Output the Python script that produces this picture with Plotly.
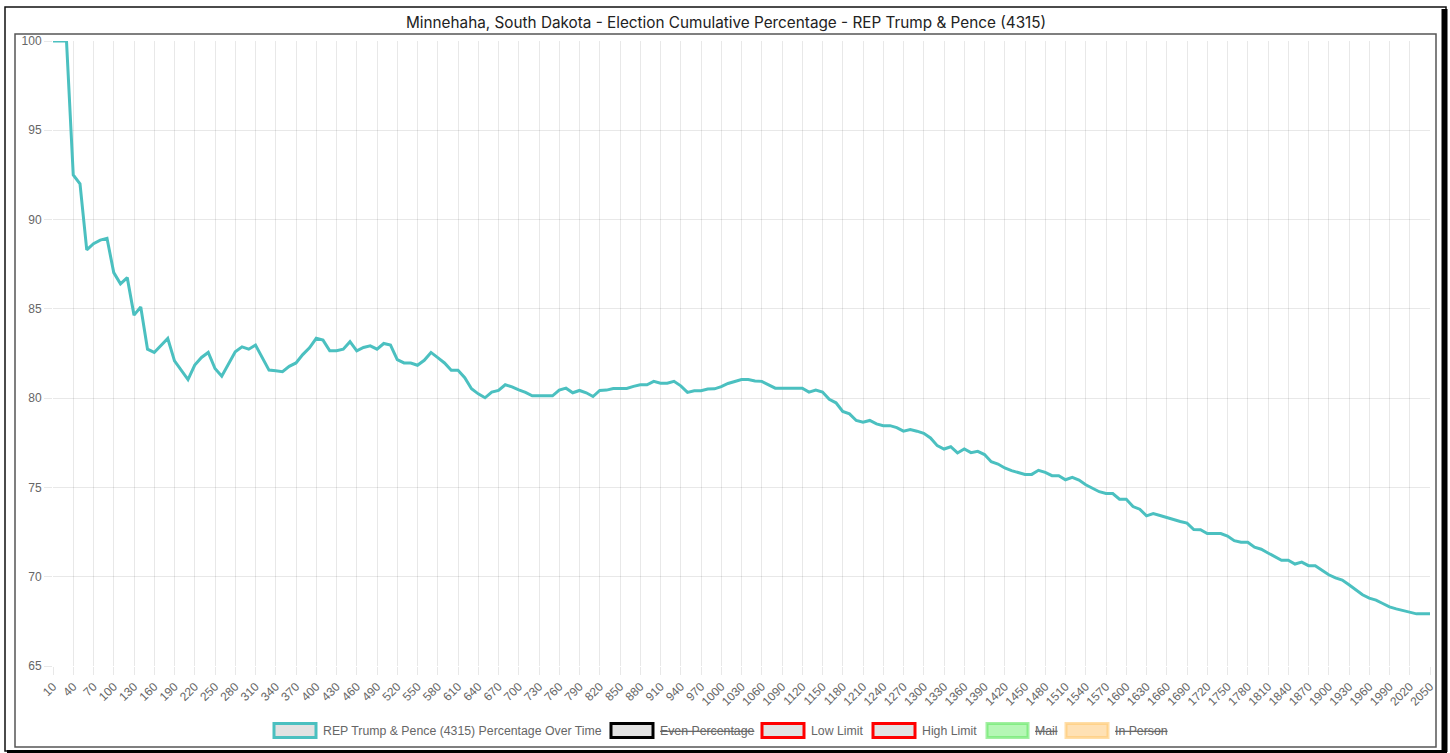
import plotly.graph_objects as go

# ---------------- data ----------------
categories = list(range(10, 2051, 10))
rep_pct = [
    100, 100, 100, 92.5, 92.0, 88.3, 88.65, 88.85, 88.95, 87.03,
    86.4, 86.75, 84.65, 85.1, 82.74, 82.56, 82.97, 83.34, 82.09, 81.57,
    81.04, 81.85, 82.28, 82.56, 81.66, 81.23, 81.9, 82.6, 82.87, 82.74,
    82.97, 82.28, 81.57, 81.53, 81.48, 81.78, 81.97, 82.44, 82.82, 83.35,
    83.25, 82.65, 82.65, 82.74, 83.16, 82.65, 82.84, 82.93, 82.74, 83.06,
    82.97, 82.16, 81.97, 81.97, 81.84, 82.12, 82.56, 82.27, 81.97, 81.56,
    81.56, 81.15, 80.53, 80.24, 80.02, 80.34, 80.43, 80.75, 80.63, 80.46,
    80.32, 80.13, 80.13, 80.13, 80.13, 80.45, 80.56, 80.3, 80.43, 80.3,
    80.09, 80.43, 80.45, 80.54, 80.54, 80.54, 80.66, 80.75, 80.75, 80.94,
    80.84, 80.84, 80.94, 80.69, 80.32, 80.41, 80.41, 80.51, 80.52, 80.64,
    80.82, 80.94, 81.04, 81.04, 80.96, 80.94, 80.75, 80.56, 80.56, 80.56,
    80.56, 80.56, 80.34, 80.45, 80.34, 79.93, 79.74, 79.25, 79.12, 78.75,
    78.65, 78.75, 78.56, 78.46, 78.46, 78.35, 78.15, 78.24, 78.15, 78.03,
    77.77, 77.34, 77.15, 77.28, 76.93, 77.15, 76.95, 77.02, 76.84, 76.44,
    76.31, 76.09, 75.94, 75.84, 75.73, 75.73, 75.96, 75.84, 75.66, 75.66,
    75.43, 75.56, 75.41, 75.15, 74.94, 74.76, 74.66, 74.66, 74.34, 74.34,
    73.93, 73.78, 73.41, 73.54, 73.43, 73.31, 73.2, 73.09, 73.0, 72.64,
    72.63, 72.42, 72.42, 72.42, 72.28, 72.02, 71.93, 71.93, 71.65, 71.54,
    71.33, 71.12, 70.92, 70.92, 70.71, 70.82, 70.62, 70.62, 70.34, 70.11,
    69.93, 69.81, 69.55, 69.27, 68.99, 68.8, 68.69, 68.5, 68.31, 68.2,
    68.11, 68.0, 67.92, 67.92, 67.92,
]
x_tick_labels = categories[::3]
y_tick_values = [65, 70, 75, 80, 85, 90, 95, 100]

title_text = "Minnehaha, South Dakota - Election Cumulative Percentage - REP Trump &amp; Pence (4315)"
legend_names = [
    "REP Trump &amp; Pence (4315) Percentage Over Time",
    "Even Percentage", "Low Limit", "High Limit", "Mail", "In Person",
]
legend_hidden = [False, True, False, False, True, True]

# ---------------- layout geometry ----------------
W, H = 1450, 753
L, R, T, B = 53, 20, 41, 87
PW, PH = W - L - R, H - T - B


def px(x):
    return (x - L) / PW


def py(y):
    return (H - B - y) / PH


fig = go.Figure()
fig.add_trace(go.Scatter(
    x=categories, y=rep_pct, mode="lines",
    line=dict(color="rgb(75,192,192)", width=3),
    showlegend=False, hoverinfo="x+y",
))

grid = "rgba(0,0,0,0.09)"
tickfont = dict(family="Liberation Sans, Arial, sans-serif", size=12, color="#666666")

fig.update_xaxes(
    range=[10, 2050], tickmode="array", tickvals=x_tick_labels,
    ticktext=[str(v) for v in x_tick_labels], tickangle=-45,
    showgrid=True, gridcolor=grid, gridwidth=1, zeroline=False, showline=False,
    ticks="outside", ticklen=8, tickcolor=grid, tickfont=tickfont,
)
fig.update_yaxes(
    range=[65, 100], tickmode="array", tickvals=y_tick_values,
    showgrid=True, gridcolor=grid, gridwidth=1, zeroline=False, showline=False,
    ticks="outside", ticklen=8, tickcolor=grid, tickfont=tickfont,
)

shapes = []
annotations = []

# frames
shapes.append(dict(type="rect", xref="paper", yref="paper",
                   x0=px(5), x1=px(1446), y0=py(7), y1=py(751),
                   line=dict(color="#111111", width=1.5), layer="below"))
shapes.append(dict(type="line", xref="paper", yref="paper",
                   x0=px(1444.5), x1=px(1444.5), y0=py(9), y1=py(752),
                   line=dict(color="#000000", width=6)))
shapes.append(dict(type="line", xref="paper", yref="paper",
                   x0=px(7), x1=px(1447), y0=py(751.5), y1=py(751.5),
                   line=dict(color="#000000", width=3)))
shapes.append(dict(type="rect", xref="paper", yref="paper",
                   x0=px(15), x1=px(1436), y0=py(34), y1=py(747),
                   line=dict(color="#555555", width=1.5), layer="below"))

# title
annotations.append(dict(xref="paper", yref="paper", x=px(725.5), y=py(22),
                        text=title_text, showarrow=False,
                        xanchor="center", yanchor="middle",
                        font=dict(family="Inter, Lato, sans-serif", size=15.3, color="#222222")))

# custom legend
legend_boxes = [(274, 316), (611, 653), (762, 804), (873, 915), (987, 1028), (1066, 1108)]
legend_border = ["rgb(75,192,192)", "#000000", "#ff0000", "#ff0000",
                 "rgba(100,230,100,0.6)", "rgba(255,200,110,0.6)"]
legend_fill = ["#e2e2e2", "#e2e2e2", "#e2e2e2", "#e2e2e2",
               "rgba(120,240,120,0.55)", "rgba(255,205,130,0.6)"]
for (bx0, bx1), bc, fc, name, hid in zip(legend_boxes, legend_border, legend_fill,
                                           legend_names, legend_hidden):
    shapes.append(dict(type="rect", xref="paper", yref="paper",
                       x0=px(bx0), x1=px(bx1), y0=py(723.5), y1=py(737.5),
                       line=dict(color=bc, width=3), fillcolor=fc))
    txt = f"<s>{name}</s>" if hid else name
    annotations.append(dict(xref="paper", yref="paper", x=px(bx1 + 5), y=py(730.5),
                            text=txt, showarrow=False, xanchor="left", yanchor="middle",
                            font=dict(family="Liberation Sans, Arial, sans-serif",
                                      size=12.3, color="#666666")))

fig.update_layout(
    width=W, height=H, autosize=False,
    margin=dict(l=L, r=R, t=T, b=B, pad=0),
    paper_bgcolor="white", plot_bgcolor="white",
    shapes=shapes, annotations=annotations, showlegend=False,
)

fig.write_html("out.html", include_plotlyjs=True,
               config={"displayModeBar": False},
               post_script="document.body.style.margin='0px';document.body.style.overflow='hidden';")
